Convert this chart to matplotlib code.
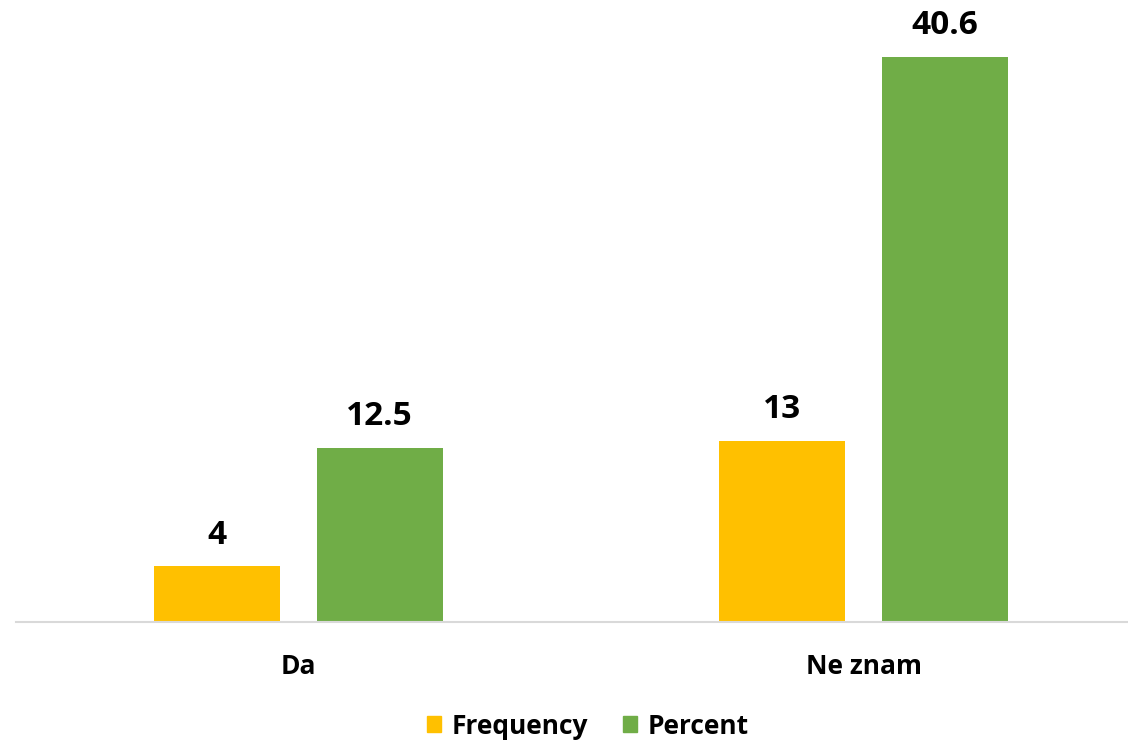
import matplotlib
matplotlib.use('Agg')
from matplotlib import pyplot as plt
from matplotlib.patches import Patch
import numpy as np

categories = ['Da', 'Ne znam']
frequency = [4, 13]
percent = [12.5, 40.6]

plt.rcParams['font.family'] = ['Open Sans', 'DejaVu Sans']

fig = plt.figure(figsize=(11.28, 7.41), dpi=100)
ax = fig.add_axes([16/1128, 119/741, 1130/1128, 610/741])

x = np.arange(len(categories))
w = 0.223
off = 0.1435
b1 = ax.bar(x - off, frequency, w, color='#FFC000')
b2 = ax.bar(x + off, percent, w, color='#70AD47')

for bars, vals in [(b1, frequency), (b2, percent)]:
    for r, v in zip(bars, vals):
        ax.text(r.get_x() + r.get_width()/2, v + 1.05, str(v), ha='center', va='bottom',
                fontsize=24, fontweight='bold', color='black')

ax.set_xlim(-0.5, 1.5)
ax.set_ylim(0, 43.8)
ax.set_xticks(x)
ax.set_xticklabels(categories, fontsize=19, fontweight='bold')
ax.tick_params(axis='x', length=0, pad=22)
ax.set_yticks([])
for s in ['top', 'right', 'left']:
    ax.spines[s].set_visible(False)
ax.spines['bottom'].set_color('#D9D9D9')
ax.spines['bottom'].set_linewidth(1.5)

handles = [Patch(color='#FFC000', label='Frequency'), Patch(color='#70AD47', label='Percent')]
fig.legend(handles=handles, loc='center', bbox_to_anchor=(588/1128, 1 - 726/741), ncol=2,
           frameon=False, prop={'size': 19, 'weight': 'bold'}, handlelength=0.55,
           handleheight=0.55, handletextpad=0.4, columnspacing=1.3)

fig.savefig('out.png', dpi=100)
